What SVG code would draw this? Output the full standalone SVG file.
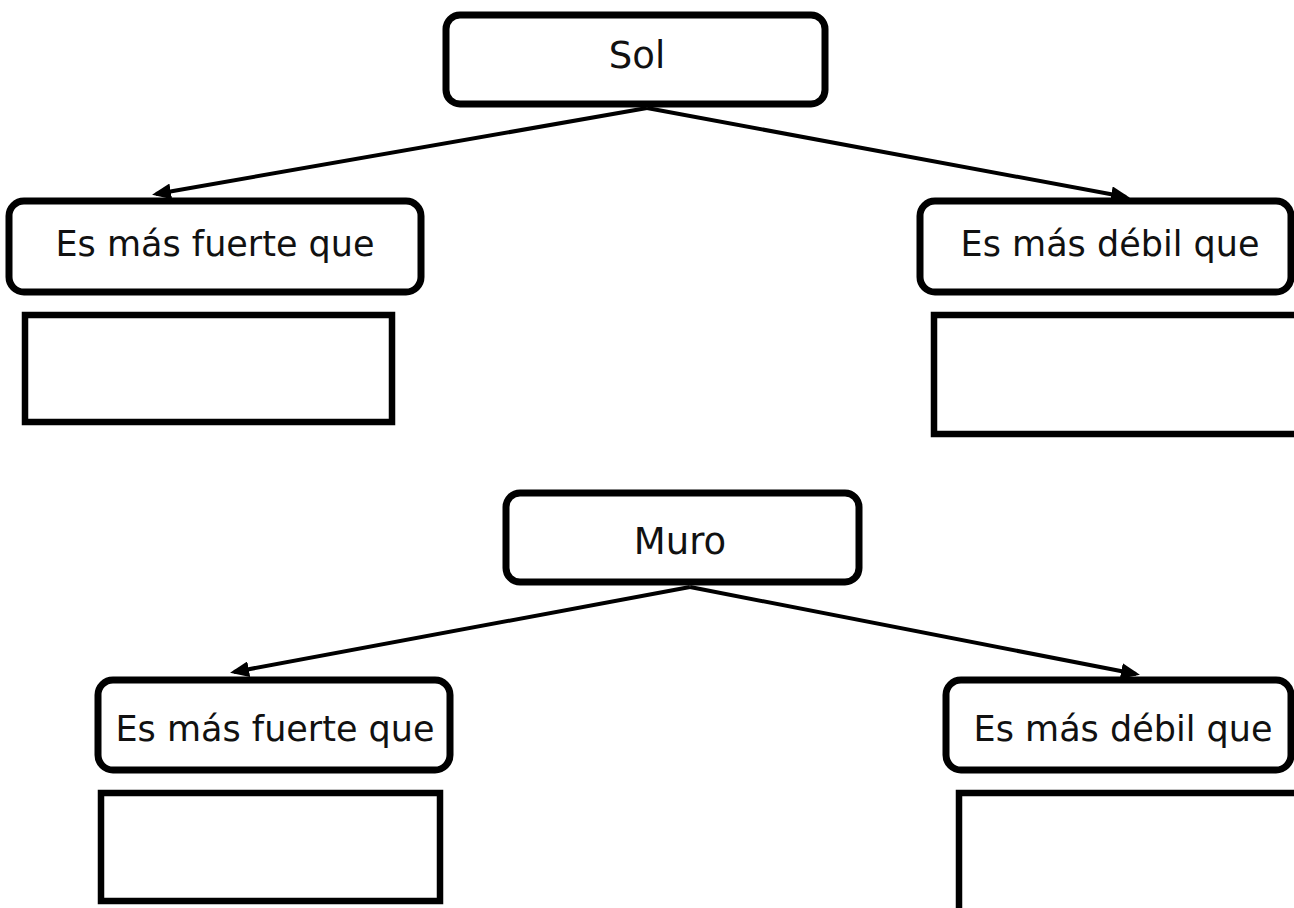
<svg xmlns="http://www.w3.org/2000/svg" width="1294" height="908" viewBox="0 0 1294 908">
  <style>
    .box { fill: #ffffff; stroke: #000000; stroke-width: 7; }
    .blank { fill: #ffffff; stroke: #000000; stroke-width: 6.5; }
    .lbl { font-family: "DejaVu Sans", "Liberation Sans", sans-serif; font-size: 35px; fill: #111111; text-anchor: middle; }
    .title { font-size: 37px; }
    .conn { stroke: #000000; stroke-width: 4; fill: none; marker-end: url(#arrow); }
  </style>
  <defs>
    <marker id="arrow" markerUnits="userSpaceOnUse" markerWidth="20" markerHeight="16" refX="15" refY="8" orient="auto">
      <path d="M0,0 L19,8 L0,16 z" fill="#000000"/>
    </marker>
  </defs>
  <rect width="1294" height="908" fill="#ffffff"/>

  <g id="connectors">
    <line class="conn" x1="647" y1="108" x2="156" y2="194"/>
    <line class="conn" x1="647" y1="108" x2="1126" y2="197"/>
    <line class="conn" x1="690" y1="587" x2="234" y2="672"/>
    <line class="conn" x1="690" y1="587" x2="1136" y2="674"/>
  </g>

  <g id="sol">
    <rect class="box" x="446" y="15" width="379" height="89" rx="14"/>
    <text class="lbl title" x="637" y="68">Sol</text>
  </g>
  <g id="sol-fuerte">
    <rect class="box" x="9" y="201" width="412" height="91" rx="15"/>
    <text class="lbl" x="215" y="256">Es más fuerte que</text>
  </g>
  <g id="sol-fuerte-blank">
    <rect class="blank" x="25" y="315" width="367" height="107"/>
  </g>
  <g id="sol-debil">
    <rect class="box" x="920" y="201" width="371" height="91" rx="15"/>
    <text class="lbl" x="1110" y="256">Es más débil que</text>
  </g>
  <g id="sol-debil-blank">
    <rect class="blank" x="934" y="315" width="400" height="119"/>
  </g>

  <g id="muro">
    <rect class="box" x="506" y="493" width="353" height="89" rx="14"/>
    <text class="lbl title" x="680" y="554">Muro</text>
  </g>
  <g id="muro-fuerte">
    <rect class="box" x="98" y="680" width="352" height="90" rx="15"/>
    <text class="lbl" x="275" y="741">Es más fuerte que</text>
  </g>
  <g id="muro-fuerte-blank">
    <rect class="blank" x="101" y="793" width="339" height="108"/>
  </g>
  <g id="muro-debil">
    <rect class="box" x="946" y="680" width="345" height="90" rx="15"/>
    <text class="lbl" x="1123" y="741">Es más débil que</text>
  </g>
  <g id="muro-debil-blank">
    <rect class="blank" x="959" y="793" width="400" height="130"/>
  </g>
</svg>
